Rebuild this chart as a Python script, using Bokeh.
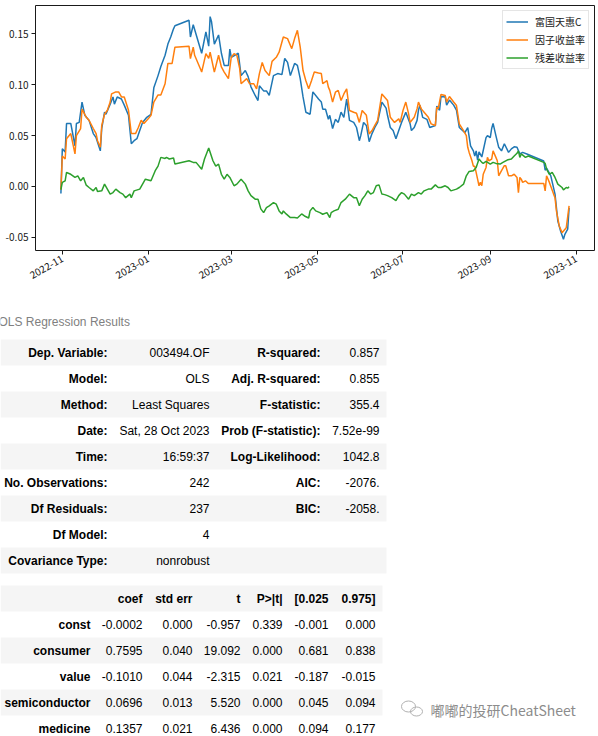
import math
import pandas as pd
from bokeh.plotting import figure
from bokeh.layouts import column
from bokeh.models import (Range1d, FixedTicker, DatetimeTickFormatter, PrintfTickFormatter,
                          Legend, LegendItem, ColumnDataSource)
from bokeh.core.properties import value
from bokeh.embed import file_html
from bokeh.resources import INLINE

# ---------------- data ----------------
BASE_DATE = "2022-11-01"          # day offsets below count from this date

series_names = ["富国天惠C", "因子收益率", "残差收益率"]

fund_pts = [(-1,-0.007),(0,0.037),(2,0.034),(3,0.062),(6,0.062),(9,0.040),(10,0.062),(12,0.063),
    (14,0.083),(16,0.070),(19,0.065),(22,0.052),(24,0.048),(27,0.035),(28,0.057),(30,0.073),(31,0.071),
    (34,0.081),(36,0.088),(37,0.081),(39,0.088),(42,0.086),(44,0.080),(47,0.070),(49,0.042),(51,0.045),
    (53,0.047),(55,0.055),(57,0.063),(60,0.068),(63,0.071),(65,0.097),(68,0.109),(70,0.118),(73,0.129),
    (75,0.140),(77,0.147),(79,0.155),(80,0.158),(90,0.1635),(91,0.147),(93,0.159),(96,0.145),(99,0.131),
    (102,0.152),(104,0.138),(105,0.167),(106,0.162),(108,0.140),(111,0.149),(113,0.131),(115,0.119),
    (118,0.119),(119,0.135),(120,0.127),(125,0.131),(127,0.109),(130,0.114),(132,0.108),(134,0.098),
    (137,0.0895),(139,0.0845),(140,0.099),(143,0.094),(145,0.094),(147,0.0895),(150,0.109),(153,0.111),
    (156,0.110),(158,0.126),(160,0.122),(162,0.109),(165,0.121),(167,0.119),(169,0.106),(171,0.088),
    (173,0.073),(176,0.071),(178,0.093),(182,0.086),(184,0.083),(185,0.076),(187,0.076),(189,0.066),
    (190,0.070),(192,0.057),(194,0.066),(196,0.063),(198,0.073),(200,0.068),(202,0.086),(204,0.065),
    (207,0.063),(209,0.058),(211,0.045),(212,0.050),(214,0.063),(216,0.060),(218,0.044),(220,0.052),
    (222,0.058),(224,0.063),(227,0.083),(230,0.077),(231,0.070),(233,0.058),(235,0.055),(237,0.047),
    (239,0.055),(241,0.063),(244,0.073),(247,0.062),(248,0.055),(250,0.058),(252,0.065),(253,0.075),
    (254,0.080),(256,0.068),(259,0.066),(261,0.058),(265,0.060),(266,0.079),(268,0.075),(269,0.0885),
    (272,0.088),(273,0.080),(275,0.085),(278,0.080),(280,0.075),(282,0.058),(286,0.053),(288,0.058),
    (290,0.040),(292,0.035),(293,0.030),(294,0.035),(295,0.026),(296,0.034),(298,0.029),(301,0.048),
    (302,0.050),(304,0.048),(305,0.057),(306,0.062),(308,0.050),(310,0.0385),(312,0.035),(314,0.042),
    (317,0.0335),(319,0.037),(321,0.039),(323,0.0385),(325,0.032),(327,0.0335),(330,0.032),(342,0.025),
    (343,0.016),(344,0.018),(347,0.0105),(350,-0.0075),(352,-0.034),(354,-0.044),(356,-0.052),
    (357,-0.047),(359,-0.042),(360,-0.021)]

factor_pts = [(-1,-0.003),(0,0.030),(2,0.027),(3,0.047),(6,0.052),(9,0.032),(10,0.050),(13,0.057),
    (14,0.076),(17,0.068),(19,0.065),(22,0.057),(24,0.052),(25,0.045),(27,0.0385),(28,0.060),(30,0.071),
    (32,0.075),(34,0.083),(35,0.091),(38,0.093),(40,0.093),(42,0.088),(44,0.088),(47,0.075),(49,0.052),
    (52,0.052),(54,0.058),(56,0.065),(58,0.062),(61,0.0665),(63,0.070),(65,0.083),(68,0.090),(70,0.090),
    (73,0.101),(75,0.121),(78,0.121),(80,0.137),(90,0.138),(91,0.1257),(93,0.137),(94,0.129),(98,0.116),
    (99,0.1125),(102,0.1306),(104,0.126),(105,0.132),(108,0.1125),(111,0.129),(113,0.1175),(115,0.1125),
    (118,0.106),(120,0.127),(122,0.1306),(124,0.129),(126,0.116),(127,0.101),(131,0.106),(133,0.101),
    (136,0.101),(138,0.096),(140,0.111),(142,0.122),(144,0.114),(147,0.109),(149,0.123),(152,0.127),
    (154,0.132),(157,0.147),(160,0.1454),(163,0.1355),(165,0.1454),(167,0.1536),(169,0.137),(171,0.114),
    (173,0.104),(175,0.096),(177,0.104),(179,0.1125),(182,0.1115),(184,0.111),(185,0.101),(188,0.104),
    (189,0.0977),(190,0.0945),(192,0.083),(194,0.0927),(196,0.0945),(198,0.0846),(200,0.091),(202,0.096),
    (204,0.0747),(207,0.073),(209,0.072),(211,0.063),(213,0.0747),(216,0.070),(218,0.0516),(220,0.055),
    (222,0.060),(224,0.065),(227,0.091),(229,0.0878),(231,0.0846),(233,0.068),(236,0.063),(239,0.0665),
    (240,0.063),(242,0.0747),(244,0.083),(246,0.0714),(247,0.063),(250,0.068),(252,0.0763),(253,0.083),
    (255,0.0763),(257,0.073),(260,0.068),(262,0.0616),(265,0.060),(266,0.078),(267,0.0763),(269,0.0905),
    (272,0.0895),(273,0.083),(275,0.0885),(278,0.083),(280,0.0796),(282,0.0616),(285,0.055),(287,0.050),
    (288,0.0385),(289,0.0335),(291,0.0253),(292,0.020),(293,0.020),(295,0.0072),(296,0.0007),(297,0.004),
    (298,0.0007),(299,0.012),(301,0.0187),(302,0.0286),(303,0.0253),(305,0.027),(306,0.035),(308,0.0286),
    (309,0.0253),(310,0.0105),(312,0.0155),(314,0.0204),(315,0.0204),(317,0.0105),(319,0.0105),(321,0.012),
    (323,0.0089),(324,-0.006),(325,0.0089),(326,0.0072),(327,0.004),(329,0.0056),(331,0.003),(342,0.003),
    (343,-0.0043),(344,0.0105),(346,0.004),(349,-0.0075),(350,-0.011),(351,-0.024),(353,-0.0388),
    (355,-0.0454),(358,-0.0405),(360,-0.019)]

resid_pts = [(-1,-0.003),(0,0.004),(2,0.0056),(3,0.0138),(6,0.012),(9,0.0089),(11,0.0105),(13,0.0056),
    (15,0.0089),(17,0.0013),(19,-0.001),(22,-0.0043),(24,-0.001),(25,-0.005),(28,-0.0043),(30,0.0023),
    (32,-0.0026),(34,-0.0075),(36,-0.006),(38,-0.0026),(41,-0.006),(43,-0.0075),(45,-0.011),(48,-0.0075),
    (49,-0.011),(51,-0.0043),(55,-0.0026),(57,0.0023),(59,0.0072),(63,0.0056),(66,0.0155),(68,0.020),
    (70,0.0286),(73,0.0276),(74,0.0286),(76,0.027),(79,0.028),(80,0.022),(90,0.0253),(93,0.0237),
    (95,0.0237),(99,0.017),(101,0.027),(104,0.0378),(107,0.0253),(109,0.020),(111,0.022),(113,0.012),
    (115,0.0072),(117,0.012),(119,0.0089),(122,0.0007),(124,0.0023),(127,0.0072),(130,0.0023),(132,-0.0043),
    (134,-0.009),(137,-0.0125),(139,-0.0125),(141,-0.022),(143,-0.0257),(145,-0.0207),(147,-0.019),
    (150,-0.0158),(152,-0.0174),(154,-0.024),(156,-0.027),(157,-0.024),(159,-0.027),(162,-0.0306),
    (165,-0.0306),(167,-0.031),(170,-0.027),(172,-0.029),(175,-0.031),(176,-0.024),(178,-0.0207),
    (180,-0.024),(183,-0.0257),(185,-0.0273),(188,-0.0257),(190,-0.0306),(191,-0.0257),(193,-0.024),
    (196,-0.0224),(198,-0.0158),(201,-0.0125),(204,-0.0075),(207,-0.011),(209,-0.011),(211,-0.019),
    (213,-0.0125),(215,-0.009),(217,-0.0043),(219,-0.0075),(221,-0.006),(223,0.0007),(225,0.0016),
    (227,-0.0075),(229,-0.008),(231,-0.009),(234,-0.011),(237,-0.014),(239,-0.009),(241,-0.006),
    (243,-0.0075),(246,-0.0125),(248,-0.0075),(250,-0.009),(253,-0.006),(255,-0.0075),(257,-0.0043),
    (260,-0.0026),(262,-0.0026),(265,0.0016),(267,-0.001),(269,-0.001),(272,0.0007),(274,-0.001),
    (276,-0.0043),(280,-0.0026),(282,-0.001),(285,0.0023),(287,0.0105),(289,0.0148),(292,0.0155),
    (294,0.0187),(296,0.027),(298,0.0237),(299,0.0227),(301,0.0247),(304,0.022),(306,0.0237),(308,0.0227),
    (311,0.022),(313,0.0237),(316,0.026),(319,0.027),(321,0.030),(323,0.0326),(324,0.035),(325,0.0286),
    (326,0.032),(329,0.0286),(331,0.030),(342,0.0237),(343,0.0227),(344,0.017),(346,0.012),(348,0.0138),
    (350,0.0089),(352,0.0023),(355,-0.001),(356,-0.0033),(358,-0.001),(359,-0.0016),(360,-0.0003)]

x_tick_dates = ["2022-11-01", "2023-01-01", "2023-03-01", "2023-05-01", "2023-07-01", "2023-09-01", "2023-11-01"]
y_tick_values = [-0.05, 0.0, 0.05, 0.10, 0.15]

table_title = "OLS Regression Results"
summary_left_labels = ["Dep. Variable:", "Model:", "Method:", "Date:", "Time:", "No. Observations:",
                       "Df Residuals:", "Df Model:", "Covariance Type:"]
summary_left_values = ["003494.OF", "OLS", "Least Squares", "Sat, 28 Oct 2023", "16:59:37", "242",
                       "237", "4", "nonrobust"]
summary_right_labels = ["R-squared:", "Adj. R-squared:", "F-statistic:", "Prob (F-statistic):",
                        "Log-Likelihood:", "AIC:", "BIC:", "", ""]
summary_right_values = ["0.857", "0.855", "355.4", "7.52e-99", "1042.8", "-2076.", "-2058.", "", ""]

coef_header = ["", "coef", "std err", "t", "P>|t|", "[0.025", "0.975]"]
coef_names = ["const", "consumer", "value", "semiconductor", "medicine"]
coef_coef = ["-0.0002", "0.7595", "-0.1010", "0.0696", "0.1357"]
coef_stderr = ["0.000", "0.040", "0.044", "0.013", "0.021"]
coef_t = ["-0.957", "19.092", "-2.315", "5.520", "6.436"]
coef_p = ["0.339", "0.000", "0.021", "0.000", "0.000"]
coef_lo = ["-0.001", "0.681", "-0.187", "0.045", "0.094"]
coef_hi = ["0.000", "0.838", "-0.015", "0.094", "0.177"]

watermark = "嘟嘟的投研CheatSheet"

# ---------------- styles ----------------
COLORS = ["#1f77b4", "#ff7f0e", "#2ca02c"]
CJK = "Noto Sans CJK SC"
SANS = "Liberation Sans"

base = pd.Timestamp(BASE_DATE)
def to_dates(days):
    return [base + pd.Timedelta(days=float(d)) for d in days]

series = []
for pts in (fund_pts, factor_pts, resid_pts):
    d, v = zip(*pts)
    series.append((list(d), list(v)))

all_days = [d for s in series for d in s[0]]
all_vals = [v for s in series for v in s[1]]
dspan = max(all_days) - min(all_days)
vspan = max(all_vals) - min(all_vals)
x0 = base + pd.Timedelta(days=min(all_days) - 0.05 * dspan)
x1 = base + pd.Timedelta(days=max(all_days) + 0.05 * dspan)
y0 = min(all_vals) - 0.05 * vspan
y1 = max(all_vals) + 0.05 * vspan

# ---------------- chart ----------------
p = figure(width=598, height=300, x_axis_type="datetime", output_backend="svg", toolbar_location=None,
           x_range=Range1d(x0, x1), y_range=Range1d(y0, y1),
           min_border_left=35, min_border_right=4, min_border_top=5, min_border_bottom=50)
p.xgrid.visible = False
p.ygrid.visible = False
p.outline_line_color = "#1a1a1a"
p.outline_line_width = 1
p.background_fill_color = "white"
p.border_fill_color = "white"

renderers = []
for (d, v), c in zip(series, COLORS):
    r = p.line(to_dates(d), v, line_color=c, line_width=1.5)
    renderers.append(r)

p.xaxis.ticker = FixedTicker(ticks=[pd.Timestamp(t).value / 1e6 for t in x_tick_dates])
fmt = "%Y-%m"
p.xaxis.formatter = DatetimeTickFormatter(years=fmt, months=fmt, days=fmt, hours=fmt, minutes=fmt,
                                          seconds=fmt, milliseconds=fmt, microseconds=fmt, hourmin=fmt,
                                          minsec=fmt)
p.xaxis.major_label_orientation = math.pi / 6
p.yaxis.ticker = FixedTicker(ticks=y_tick_values)
p.yaxis.formatter = PrintfTickFormatter(format="%.2f")
for ax in (p.xaxis[0], p.yaxis[0]):
    ax.axis_line_color = None
    ax.minor_tick_line_color = None
    ax.major_tick_in = 0
    ax.major_tick_out = 4
    ax.major_tick_line_color = "#1a1a1a"
    ax.major_tick_line_width = 1
    ax.major_label_text_font = CJK
    ax.major_label_text_font_size = "10px"
    ax.major_label_text_color = "#1a1a1a"
    ax.major_label_standoff = 3

legend = Legend(items=[LegendItem(label=n, renderers=[r]) for n, r in zip(series_names, renderers)],
                location="top_right", margin=5, padding=3, spacing=3,
                glyph_width=22, glyph_height=13, label_height=13, label_standoff=7,
                label_text_font=CJK, label_text_font_size="10px", label_text_color="#1a1a1a",
                border_line_color="#cccccc", background_fill_alpha=0.85)
p.add_layout(legend)

# ---------------- table ----------------
PAGE_TOP = 300
t = figure(width=598, height=436, output_backend="svg", toolbar_location=None,
           x_range=Range1d(0, 598), y_range=Range1d(PAGE_TOP + 436, PAGE_TOP),
           x_axis_location=None, y_axis_location=None, min_border=0)
t.xgrid.visible = False
t.ygrid.visible = False
t.outline_line_color = None

for fig in (p, t):
    if "frame_align" in fig.properties():
        fig.frame_align = False

ROW_H = 26
BAND = "#f5f5f5"

# title
t.text(x=[-2], y=[321], text=[table_title], text_font=value(SANS), text_font_size="12px",
       text_color="#808080", text_baseline="middle", text_align="left")

# summary table
T1_TOP = 339
n1 = len(summary_left_labels)
tops1 = [T1_TOP + i * ROW_H for i in range(n1)]
grey1 = [tp for i, tp in enumerate(tops1) if i % 2 == 0]
t.quad(left=0, right=386, top=grey1, bottom=[g + ROW_H for g in grey1], fill_color=BAND, line_color=None)
mids1 = [tp + ROW_H / 2 for tp in tops1]
for texts, xr, bold in ((summary_left_labels, 107, True), (summary_left_values, 209, False),
                        (summary_right_labels, 320, True), (summary_right_values, 379, False)):
    t.text(x=[xr] * n1, y=mids1, text=texts, text_font=value(SANS), text_font_size="12px",
           text_font_style="bold" if bold else "normal", text_color="black",
           text_align="right", text_baseline="middle")

# coefficient table
T2_TOP = 585
n2 = len(coef_names) + 1
tops2 = [T2_TOP + i * ROW_H for i in range(n2)]
grey2 = [tp for i, tp in enumerate(tops2) if i % 2 == 0]
t.quad(left=0, right=382, top=grey2, bottom=[g + ROW_H for g in grey2], fill_color=BAND, line_color=None)
mids2 = [tp + ROW_H / 2 for tp in tops2]
col_right = [90, 142, 192, 240, 282, 328, 375]
columns = [coef_names, coef_coef, coef_stderr, coef_t, coef_p, coef_lo, coef_hi]
for j, (xr, col) in enumerate(zip(col_right, columns)):
    texts = [coef_header[j]] + col
    bold_rows = [0] if j > 0 else list(range(n2))
    src_b = ColumnDataSource(dict(x=[xr] * len(bold_rows), y=[mids2[i] for i in bold_rows],
                                  text=[texts[i] for i in bold_rows]))
    t.text(x="x", y="y", text="text", source=src_b, text_font=value(SANS), text_font_size="12px",
           text_font_style="bold", text_color="black", text_align="right", text_baseline="middle")
    if j > 0:
        rows = list(range(1, n2))
        src_n = ColumnDataSource(dict(x=[xr] * len(rows), y=[mids2[i] for i in rows],
                                      text=[texts[i] for i in rows]))
        t.text(x="x", y="y", text="text", source=src_n, text_font=value(SANS), text_font_size="12px",
               text_color="black", text_align="right", text_baseline="middle")

# watermark
WM_X, WM_Y = 430, 709
t.ellipse(x=[WM_X - 22, WM_X - 14], y=[WM_Y - 3, WM_Y + 2], width=[14, 12], height=[11, 9],
          fill_color=None, line_color="#b0b0b0", line_width=1)
t.text(x=[WM_X], y=[WM_Y], text=[watermark], text_font=value(CJK), text_font_size="14px",
       text_color="#8c8c8c", text_align="left", text_baseline="middle")

root = column(p, t, spacing=0)
open("out.html", "w").write(file_html(root, INLINE))
